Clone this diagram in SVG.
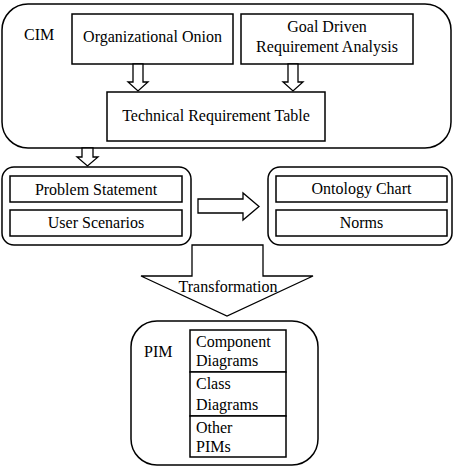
<svg xmlns="http://www.w3.org/2000/svg" width="454" height="466" viewBox="0 0 454 466" font-family="'Liberation Serif', 'DejaVu Serif', serif">
<style>
.b{fill:#fff;stroke:#000;stroke-width:1.5}
.a{fill:#fff;stroke:#000;stroke-width:1.3;stroke-linejoin:miter}
.t{font-family:'Liberation Serif','DejaVu Serif',serif;font-size:16px;fill:#000}
.m{text-anchor:middle}
</style>
<rect width="454" height="466" fill="#fff"/>
<g id="cim">
<rect class="b" x="2" y="4" width="449" height="144" rx="26"/>
<text class="t" x="24" y="40">CIM</text>
</g>
<g id="onion">
<rect class="b" x="72" y="14" width="161" height="50"/>
<text class="t m" x="152.5" y="42">Organizational Onion</text>
</g>
<g id="goal">
<rect class="b" x="241" y="14" width="172" height="50"/>
<text class="t m" x="327" y="32">Goal Driven</text>
<text class="t m" x="327" y="52">Requirement Analysis</text>
</g>
<g id="trt">
<rect class="b" x="107" y="92" width="218" height="49"/>
<text class="t m" x="216" y="121">Technical Requirement Table</text>
</g>
<g id="left">
<rect class="b" x="2" y="167" width="189" height="78" rx="12"/>
<rect class="b" x="10" y="176" width="172" height="26"/>
<text class="t m" x="96" y="195">Problem Statement</text>
<rect class="b" x="10" y="210" width="172" height="26"/>
<text class="t m" x="96" y="228">User Scenarios</text>
</g>
<g id="right">
<rect class="b" x="268" y="167" width="184" height="78" rx="12"/>
<rect class="b" x="276" y="176" width="171" height="26"/>
<text class="t m" x="361.5" y="194">Ontology Chart</text>
<rect class="b" x="276" y="210" width="171" height="26"/>
<text class="t m" x="361.5" y="228">Norms</text>
</g>
<g id="pim">
<rect class="b" x="131" y="321" width="187" height="144" rx="26"/>
<text class="t" x="144" y="357">PIM</text>
<rect class="b" x="190" y="330" width="96" height="42"/>
<text class="t" x="196" y="347">Component</text>
<text class="t" x="196" y="366">Diagrams</text>
<rect class="b" x="190" y="372" width="96" height="44"/>
<text class="t" x="196" y="389">Class</text>
<text class="t" x="196" y="410">Diagrams</text>
<rect class="b" x="190" y="416" width="96" height="41"/>
<text class="t" x="196" y="433">Other</text>
<text class="t" x="196" y="452">PIMs</text>
</g>
<g id="connectors">
<polygon class="a" points="133,64 143,64 143,82 148,82 138,91 128,82 133,82"/>
<polygon class="a" points="288,64 298,64 298,82 303,82 293,91 283,82 288,82"/>
<polygon class="a" points="82,148 93,148 93,157 98,157 87.5,166 77,157 82,157"/>
<polygon class="a" points="198,199 243,199 243,193 259,206.5 243,220 243,213 198,213"/>
<polygon class="a" points="192,245 263,245 263,276 313,276 227,316 141,276 192,276"/>
<text class="t m" x="228" y="292">Transformation</text>
</g>
</svg>
